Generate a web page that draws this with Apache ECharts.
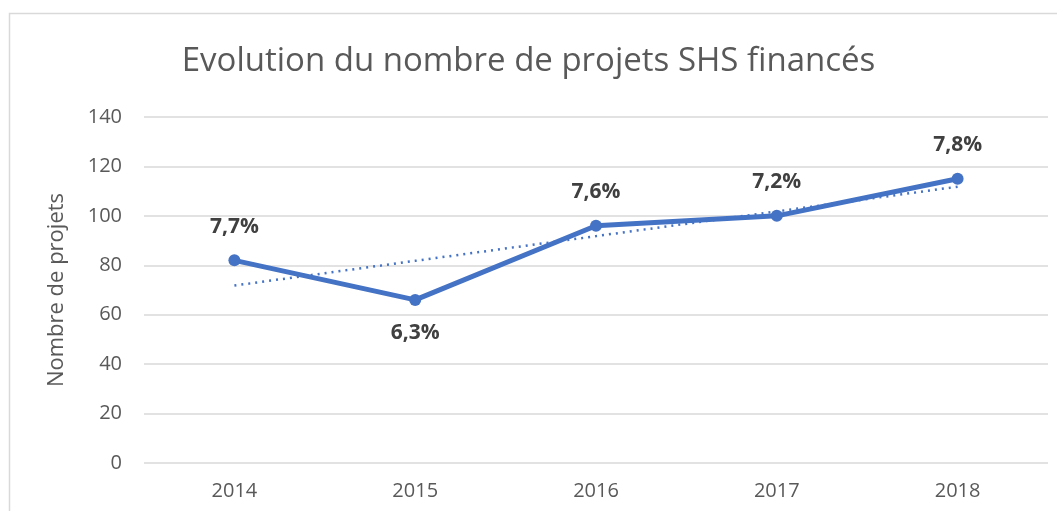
<!DOCTYPE html>
<html>
<head>
<meta charset="utf-8">
<script src="https://cdn.jsdelivr.net/npm/echarts@6/dist/echarts.min.js"></script>
<style>
  html, body { margin: 0; padding: 0; background: #fff; }
  #chart { width: 1057px; height: 511px; }
</style>
</head>
<body>
<div id="chart"></div>
<script>
const years = ["2014", "2015", "2016", "2017", "2018"];
const projets = [82, 66, 96, 100, 115];
const parts = ["7,7%", "6,3%", "7,6%", "7,2%", "7,8%"];
const labelSide = ["top", "bottom", "top", "top", "top"];
// linear trend line
const tendance = [71.8, 81.8, 91.8, 101.8, 111.8];

const BLUE = "#4472C4";
const FONT = "'Open Sans', 'Noto Sans', sans-serif";

const chart = echarts.init(document.getElementById("chart"));

chart.setOption({
  animation: false,
  backgroundColor: "#fff",
  textStyle: { fontFamily: FONT },
  graphic: [{
    type: "rect",
    shape: { x: 9.5, y: 13.5, width: 1100, height: 600 },
    style: { fill: "none", stroke: "#d9d9d9", lineWidth: 1.5 },
    silent: true
  }],
  title: {
    text: "Evolution du nombre de projets SHS financés",
    left: "center",
    top: 40,
    textStyle: { fontFamily: FONT, fontSize: 33, fontWeight: "normal", color: "#595959" }
  },
  grid: { left: 144, right: 9, top: 117, bottom: 48 },
  xAxis: {
    type: "category",
    data: years,
    axisLine: { show: false },
    axisTick: { show: false },
    axisLabel: { color: "#595959", fontSize: 20, margin: 18, fontFamily: FONT }
  },
  yAxis: {
    type: "value",
    min: 0,
    max: 140,
    interval: 20,
    name: "Nombre de projets",
    nameLocation: "middle",
    nameGap: 76,
    nameTextStyle: { color: "#595959", fontSize: 22, fontFamily: FONT },
    axisLine: { show: false },
    axisTick: { show: false },
    axisLabel: { color: "#595959", fontSize: 20, margin: 22, fontFamily: FONT },
    splitLine: { lineStyle: { color: "#d9d9d9", width: 1.5 } }
  },
  series: [
    {
      type: "line",
      data: tendance,
      symbol: "none",
      lineStyle: { color: BLUE, width: 2.5, type: [2, 5] },
      z: 1
    },
    {
      type: "line",
      data: projets.map((v, i) => ({
        value: v,
        label: { position: labelSide[i] }
      })),
      symbol: "circle",
      symbolSize: 12,
      itemStyle: { color: BLUE },
      lineStyle: { color: BLUE, width: 5 },
      label: {
        show: true,
        distance: 17,
        formatter: (p) => parts[p.dataIndex],
        color: "#404040",
        fontSize: 21,
        fontWeight: "bold",
        fontFamily: FONT
      },
      z: 2
    }
  ]
});
</script>
</body>
</html>
